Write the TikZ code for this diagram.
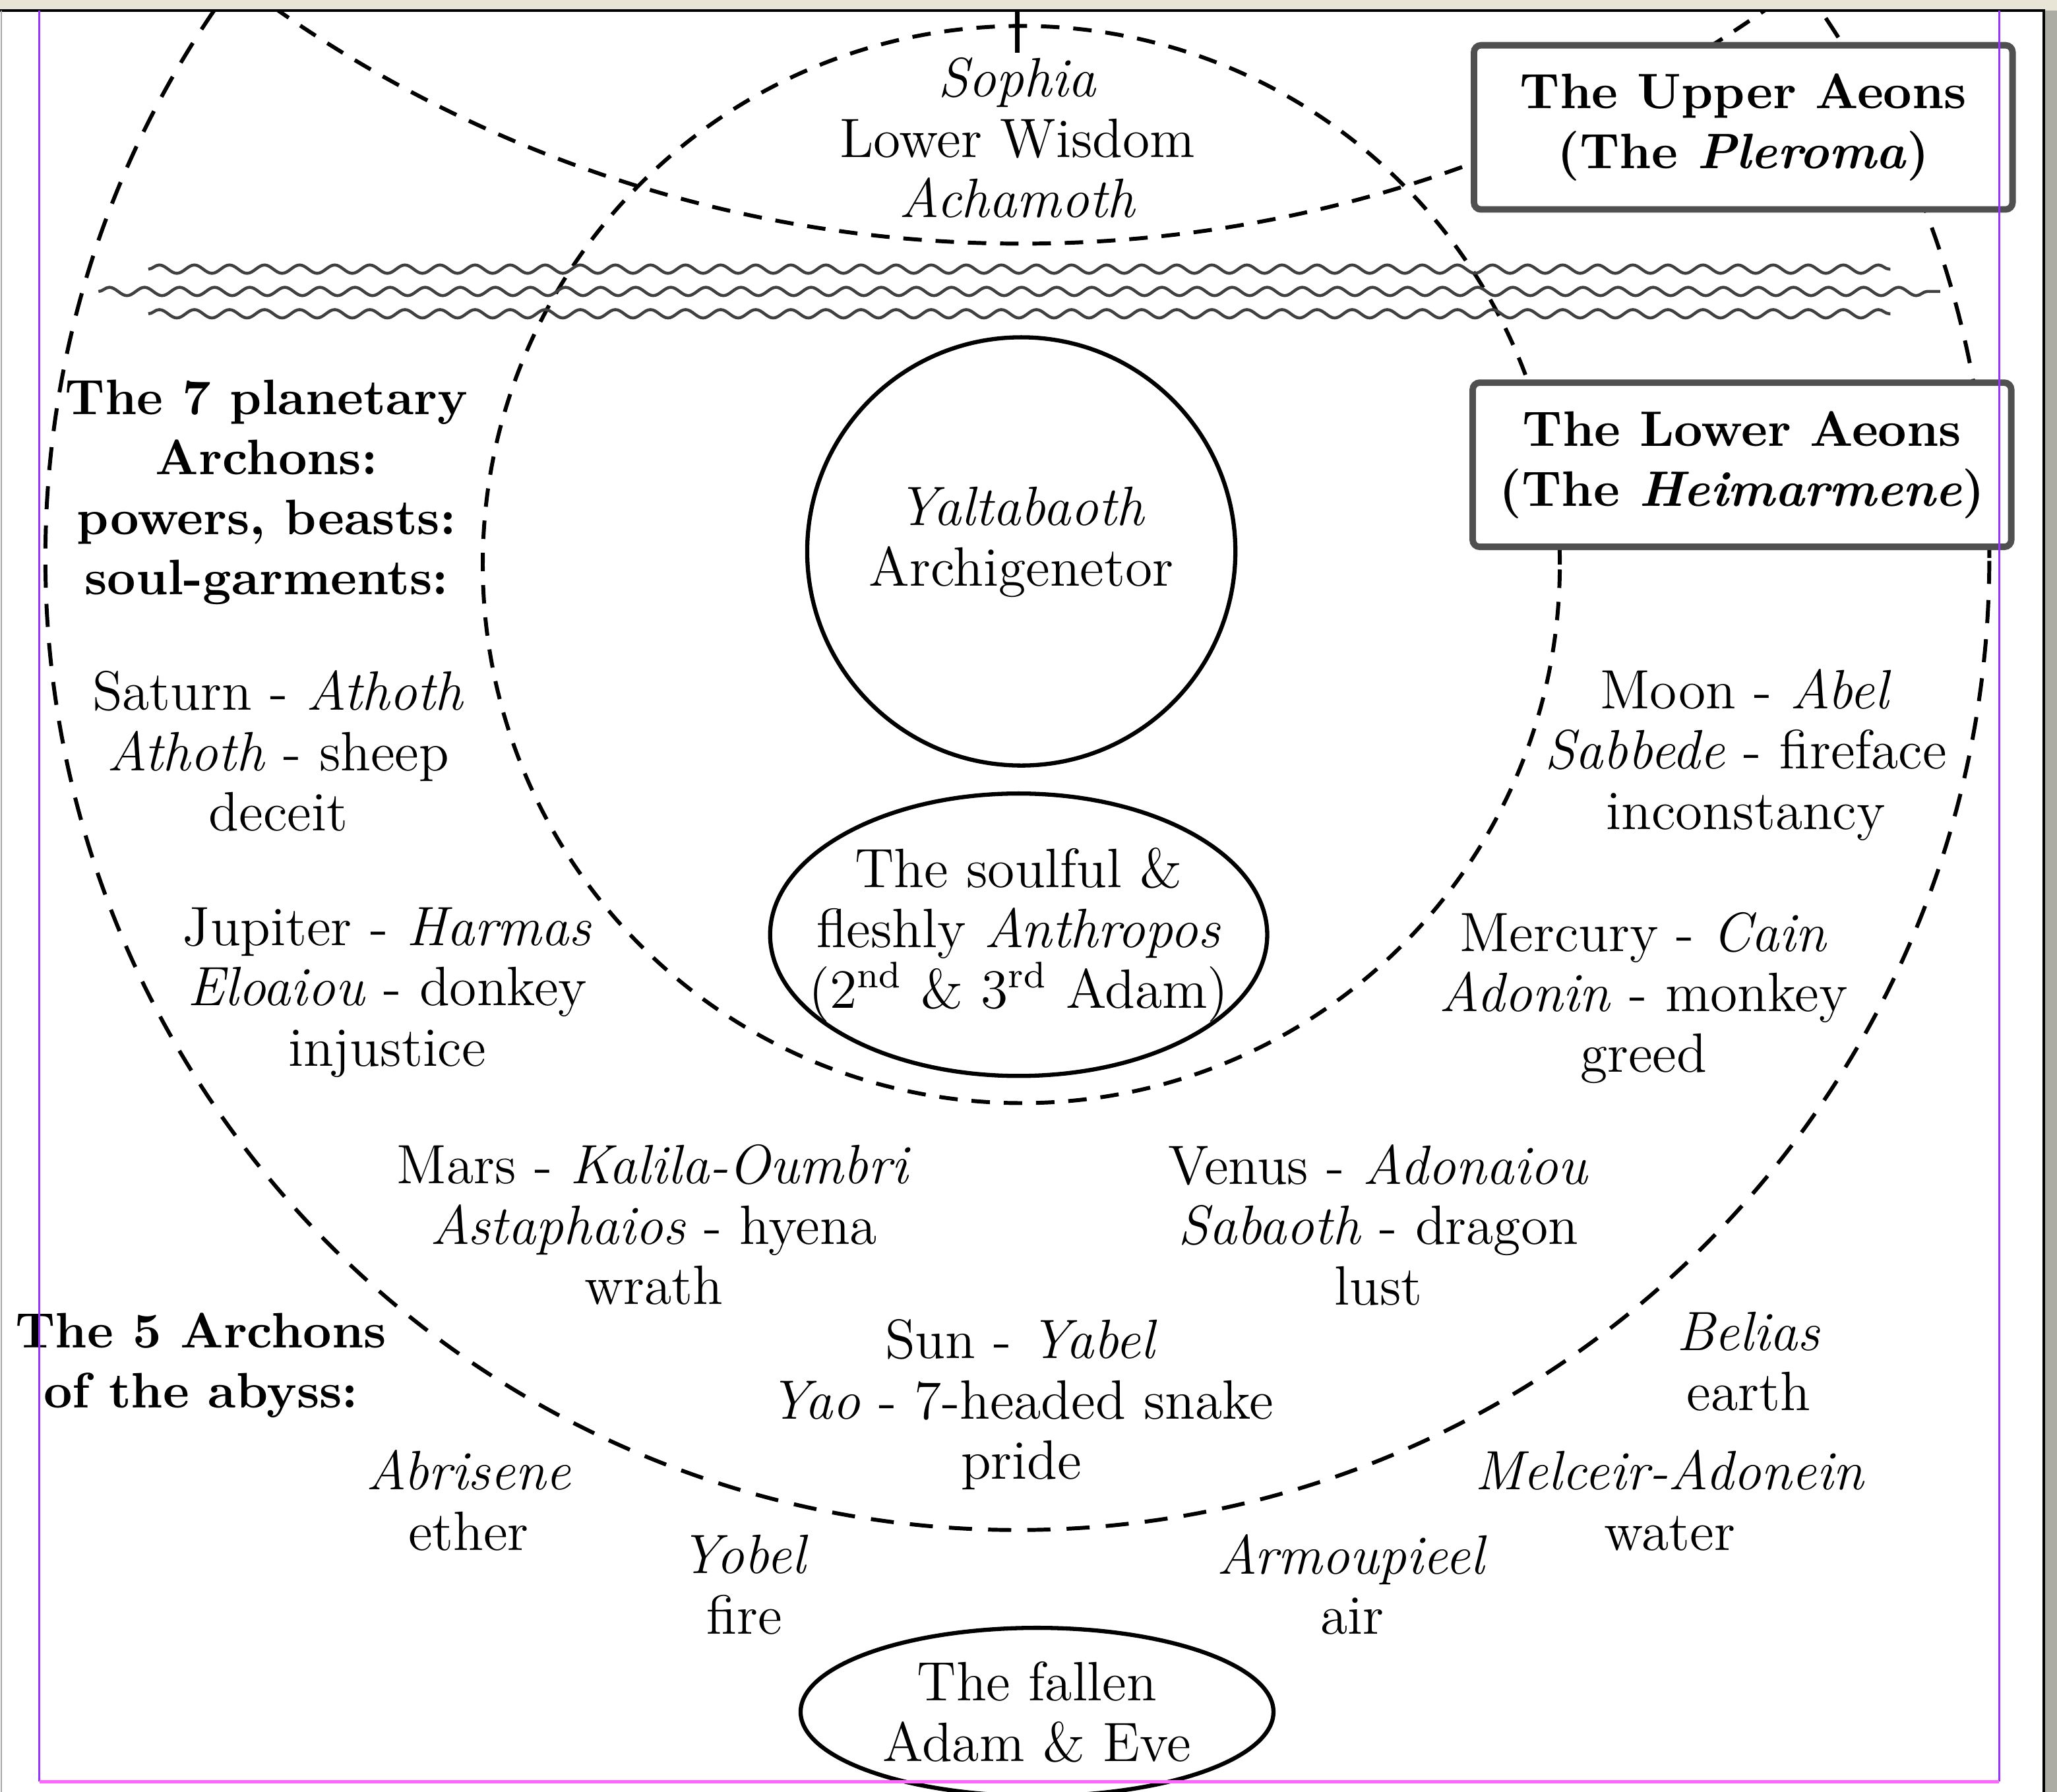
\documentclass[tikz,border=0pt]{standalone}
\usepackage{tikz}
\usetikzlibrary{calc,shapes.geometric,decorations.pathmorphing}

\definecolor{pagebeige}{RGB}{232,228,214}
\definecolor{pagegrey}{RGB}{172,172,164}
\definecolor{guideviolet}{RGB}{153,51,255}
\definecolor{guidepink}{RGB}{255,102,255}
\definecolor{boxgrey}{RGB}{80,80,80}

\tikzset{
  orbit/.style={line width=0.85pt, dash pattern=on 5pt off 3.5pt},
  innerorbit/.style={line width=0.85pt, dash pattern=on 4pt off 3pt},
  wavy/.style={line width=0.65pt, black!75, decorate,
    decoration={snake, segment length=7.6pt, amplitude=0.9pt}},
  txt/.style={align=center, inner sep=0pt, font=\fontsize{12}{13.1}\selectfont},
  hdr/.style={align=center, inner sep=0pt, font=\bfseries\fontsize{10.8}{13}\selectfont},
  aeonbox/.style={draw=boxgrey, line width=1.4pt, fill=white, rounded corners=1.5pt,
    minimum width=4.1cm, minimum height=1.25cm, inner sep=0pt, align=center,
    font=\bfseries\fontsize{10.8}{13}\selectfont},
  soulshape/.style={draw, line width=0.9pt, fill=white, align=center, inner sep=0pt,
    font=\fontsize{12}{13.1}\selectfont}
}

\newcommand\waveline[3]{
  \coordinate (w) at ( #1, #3 );
  \draw[wavy] (w) -- ($ (w) + (#2,0) $);
}

\begin{document}
\begin{tikzpicture}[x=0.01cm, y=-0.01cm]
  \useasboundingbox (0,0) rectangle (1567,1365);
  % page
  \fill[pagebeige] (0,0) rectangle (1567,8);
  \fill[pagegrey] (1557,8) rectangle (1567,1365);
  \fill[white] (0,8) rectangle (1557,1365);
  \draw[black, line width=0.6pt] (0,8) -- (1557,8) -- (1557,1365);
  \draw[black!35, line width=0.4pt] (1,8) -- (1,1365);

  \begin{scope}
    \clip (0,8) rectangle (1557,1365);
    \draw[orbit] (775,425) circle [radius=7.4cm];
    \draw[innerorbit] (778,430) circle [radius=4.1cm];
    \draw[innerorbit] (778,-805) circle [radius=9.9cm];
  \end{scope}

  \coordinate (crosstop) at (775,8);
  \coordinate (crossfoot) at (775,40);
  \draw[line width=0.9pt] (crosstop) -- (crossfoot);

  \waveline{113}{1327}{205}
  \waveline{75}{1403}{222}
  \waveline{113}{1327}{239}

  \node[aeonbox] (upper) at (1328,97) {The Upper Aeons\\(The \textit{Pleroma})};
  \node[aeonbox] (lower) at (1327,354) {The Lower Aeons\\(The \textit{Heimarmene})};

  \node[soulshape, circle, minimum size=3.26cm] (yalta) at (778,420)
    {\textit{Yaltabaoth}\\Archigenetor\rule[-6.5pt]{0pt}{0pt}};
  \node[soulshape, ellipse, inner xsep=-0.26cm, minimum width=3.74cm, minimum height=2.15cm]
    (anthropos) at (776,712)
    {The soulful \&\\fleshly \textit{Anthropos}\\(2\textsuperscript{nd} \& 3\textsuperscript{rd} Adam)};
  \node[soulshape, ellipse, minimum width=3.6cm, minimum height=1.28cm] (fallen) at (790,1304)
    {The fallen\\Adam \& Eve};

  \node[txt] (sophia) at (775,105) {\textit{Sophia}\\Lower Wisdom\\\textit{Achamoth}};
  \node[hdr] (planetary) at (203,375) {The 7 planetary\\Archons:\\powers, beasts:\\soul-garments:};
  \node[txt] (saturn) at (212,572) {Saturn - \textit{Athoth}\\\textit{Athoth} - sheep\\deceit};
  \node[txt] (jupiter) at (295,756) {Jupiter - \textit{Harmas}\\\textit{Eloaiou} - donkey\\injustice};
  \node[txt] (mars) at (498,933) {Mars - \textit{Kalila-Oumbri}\\\textit{Astaphaios} - hyena\\wrath};
  \node[txt] (sun) at (778,1070) {Sun - \textit{Yabel}\\\textit{Yao} - 7-headed snake\\pride};
  \node[txt] (venus) at (1050,933) {Venus - \textit{Adonaiou}\\\textit{Sabaoth} - dragon\\lust};
  \node[txt] (mercury) at (1252,760) {Mercury - \textit{Cain}\\\textit{Adonin} - monkey\\greed};
  \node[txt] (moon) at (1330,575) {Moon - \textit{Abel}\\\textit{Sabbede} - fireface\\inconstancy};
  \node[hdr] (abyss) at (153,1040) {The 5 Archons\\of the abyss:};
  \node[txt] (belias) at (1332,1037) {\textit{Belias}\\earth};
  \node[txt] (melceir) at (1272,1143) {\textit{Melceir-Adonein}\\water};
  \node[txt] (abrisene) at (357,1143) {\textit{Abrisene}\\ether};
  \node[txt] (yobel) at (567,1207) {\textit{Yobel}\\fire};
  \node[txt] (armoupieel) at (1030,1207) {\textit{Armoupieel}\\air};

  % guides
  \draw[guideviolet, line width=0.45pt] (30,8) -- (30,1357);
  \draw[guideviolet, line width=0.45pt] (1523,8) -- (1523,1357);
  \draw[guidepink, line width=0.7pt] (30,1357) -- (1523,1357);
\end{tikzpicture}
\end{document}
